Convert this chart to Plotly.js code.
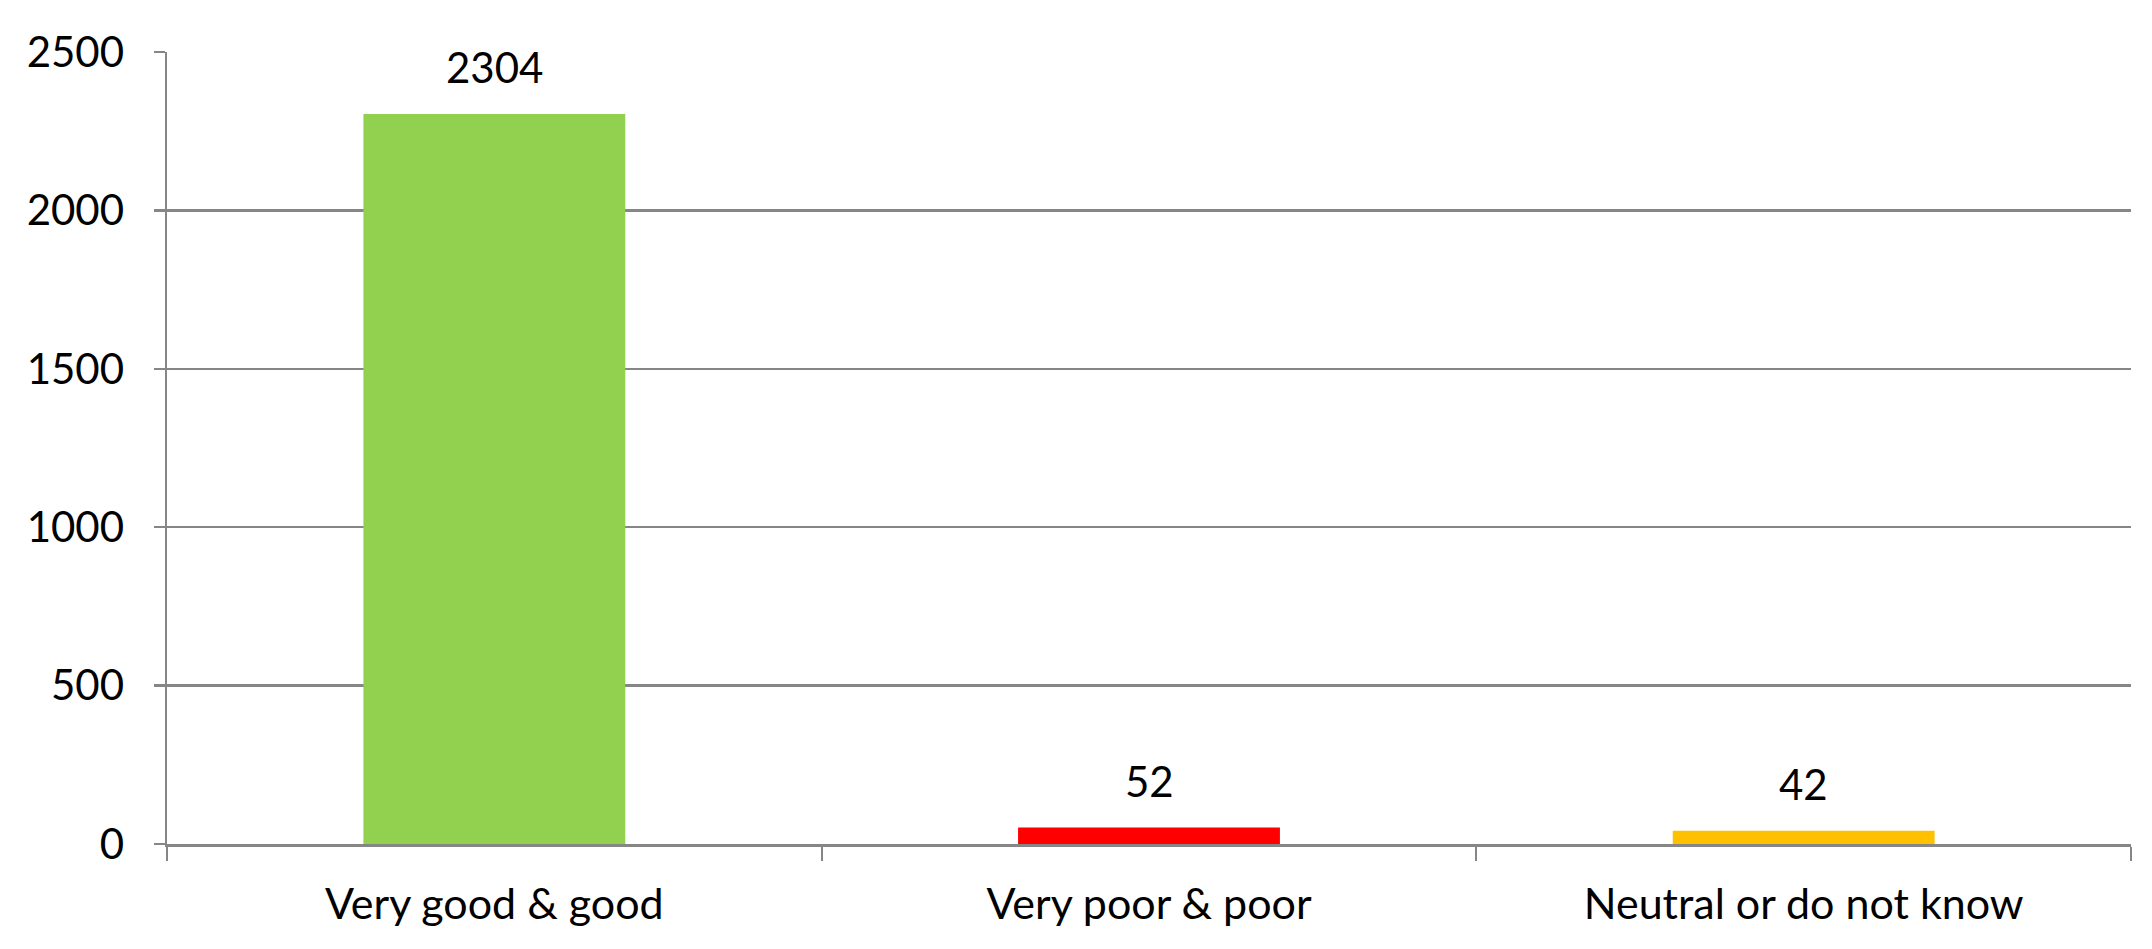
<!DOCTYPE html>
<html>
<head>
<meta charset="utf-8">
<script src="https://cdn.plot.ly/plotly-3.0.1.min.js"></script>
<style>
  html, body { margin: 0; padding: 0; background: #fff; }
  #chart { width: 2152px; height: 949px; }
</style>
</head>
<body>
<div id="chart"></div>
<script>
// values
const categories = ["Very good & good", "Very poor & poor", "Neutral or do not know"];
const counts = [2304, 52, 42];
const barColors = ["#92D050", "#FF0000", "#FFC000"];
const yTicks = [0, 500, 1000, 1500, 2000, 2500];

const gridGray = "#868686";
const font = { family: "Lato, 'Open Sans', sans-serif", size: 42, color: "#000" };
const catFont = { family: "Lato, 'Open Sans', sans-serif", size: 43, color: "#000" };

let trace = {
    x: categories,
    y: counts,
    type: "bar",
    marker: { color: barColors },
    hoverinfo: "none"
};

// value labels sit above each bar
let labels = categories.map((c, i) => ({
    x: c,
    y: counts[i],
    text: String(counts[i]),
    showarrow: false,
    yanchor: "bottom",
    yshift: 20,
    font: font
}));

let layout = {
    width: 2152,
    height: 949,
    margin: { l: 167, r: 21, t: 52, b: 105 },
    paper_bgcolor: "#fff",
    plot_bgcolor: "#fff",
    font: font,
    showlegend: false,
    bargap: 0.6,
    xaxis: {
        type: "category",
        showgrid: false,
        showline: true,
        linecolor: gridGray,
        linewidth: 3,
        ticks: "outside",
        tickson: "boundaries",
        ticklen: 14,
        tickwidth: 2,
        tickcolor: gridGray,
        ticklabelstandoff: 20,
        tickfont: catFont,
        zeroline: false
    },
    yaxis: {
        range: [0, 2500],
        tickvals: yTicks,
        showgrid: true,
        gridcolor: gridGray,
        gridwidth: 2.5,
        showline: true,
        linecolor: gridGray,
        linewidth: 2.5,
        ticks: "outside",
        ticklen: 11,
        tickwidth: 2.5,
        tickcolor: gridGray,
        ticklabelstandoff: 21,
        tickfont: font,
        zeroline: false
    },
    annotations: labels
};

Plotly.newPlot("chart", [trace], layout, { staticPlot: true, displayModeBar: false });
</script>
</body>
</html>
